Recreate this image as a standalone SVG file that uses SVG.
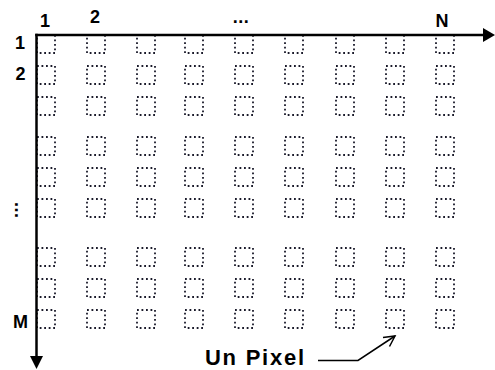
<svg xmlns="http://www.w3.org/2000/svg" xmlns:xlink="http://www.w3.org/1999/xlink" width="495" height="370" viewBox="0 0 495 370">
<style>
.px{fill:none;stroke:#1a1a2a;stroke-width:1.8;stroke-dasharray:1.8 2.7}
.ax{fill:none;stroke:#000;stroke-width:2.5}
.lead{fill:none;stroke:#000;stroke-width:1.5}
.lbl{font-family:"Liberation Sans",Arial,sans-serif;font-weight:bold;font-size:18px;fill:#000;text-anchor:middle}
</style>
<defs>
<rect id="px" class="px" width="18" height="18"/>
</defs>
<rect width="495" height="370" fill="#fff"/>
<g id="pixels">
<g id="row1"><use id="p1-1" href="#px" x="37" y="35"/><use id="p1-2" href="#px" x="87" y="35"/><use id="p1-3" href="#px" x="137" y="35"/><use id="p1-4" href="#px" x="185" y="35"/><use id="p1-5" href="#px" x="235" y="35"/><use id="p1-6" href="#px" x="285" y="35"/><use id="p1-7" href="#px" x="336" y="35"/><use id="p1-8" href="#px" x="386" y="35"/><use id="p1-9" href="#px" x="436" y="35"/></g>
<g id="row2"><use id="p2-1" href="#px" x="37" y="66"/><use id="p2-2" href="#px" x="87" y="66"/><use id="p2-3" href="#px" x="137" y="66"/><use id="p2-4" href="#px" x="185" y="66"/><use id="p2-5" href="#px" x="235" y="66"/><use id="p2-6" href="#px" x="285" y="66"/><use id="p2-7" href="#px" x="336" y="66"/><use id="p2-8" href="#px" x="386" y="66"/><use id="p2-9" href="#px" x="436" y="66"/></g>
<g id="row3"><use id="p3-1" href="#px" x="37" y="97"/><use id="p3-2" href="#px" x="87" y="97"/><use id="p3-3" href="#px" x="137" y="97"/><use id="p3-4" href="#px" x="185" y="97"/><use id="p3-5" href="#px" x="235" y="97"/><use id="p3-6" href="#px" x="285" y="97"/><use id="p3-7" href="#px" x="336" y="97"/><use id="p3-8" href="#px" x="386" y="97"/><use id="p3-9" href="#px" x="436" y="97"/></g>
<g id="row4"><use id="p4-1" href="#px" x="37" y="137"/><use id="p4-2" href="#px" x="87" y="137"/><use id="p4-3" href="#px" x="137" y="137"/><use id="p4-4" href="#px" x="185" y="137"/><use id="p4-5" href="#px" x="235" y="137"/><use id="p4-6" href="#px" x="285" y="137"/><use id="p4-7" href="#px" x="336" y="137"/><use id="p4-8" href="#px" x="386" y="137"/><use id="p4-9" href="#px" x="436" y="137"/></g>
<g id="row5"><use id="p5-1" href="#px" x="37" y="168"/><use id="p5-2" href="#px" x="87" y="168"/><use id="p5-3" href="#px" x="137" y="168"/><use id="p5-4" href="#px" x="185" y="168"/><use id="p5-5" href="#px" x="235" y="168"/><use id="p5-6" href="#px" x="285" y="168"/><use id="p5-7" href="#px" x="336" y="168"/><use id="p5-8" href="#px" x="386" y="168"/><use id="p5-9" href="#px" x="436" y="168"/></g>
<g id="row6"><use id="p6-1" href="#px" x="37" y="199"/><use id="p6-2" href="#px" x="87" y="199"/><use id="p6-3" href="#px" x="137" y="199"/><use id="p6-4" href="#px" x="185" y="199"/><use id="p6-5" href="#px" x="235" y="199"/><use id="p6-6" href="#px" x="285" y="199"/><use id="p6-7" href="#px" x="336" y="199"/><use id="p6-8" href="#px" x="386" y="199"/><use id="p6-9" href="#px" x="436" y="199"/></g>
<g id="row7"><use id="p7-1" href="#px" x="37" y="248"/><use id="p7-2" href="#px" x="87" y="248"/><use id="p7-3" href="#px" x="137" y="248"/><use id="p7-4" href="#px" x="185" y="248"/><use id="p7-5" href="#px" x="235" y="248"/><use id="p7-6" href="#px" x="285" y="248"/><use id="p7-7" href="#px" x="336" y="248"/><use id="p7-8" href="#px" x="386" y="248"/><use id="p7-9" href="#px" x="436" y="248"/></g>
<g id="row8"><use id="p8-1" href="#px" x="37" y="279"/><use id="p8-2" href="#px" x="87" y="279"/><use id="p8-3" href="#px" x="137" y="279"/><use id="p8-4" href="#px" x="185" y="279"/><use id="p8-5" href="#px" x="235" y="279"/><use id="p8-6" href="#px" x="285" y="279"/><use id="p8-7" href="#px" x="336" y="279"/><use id="p8-8" href="#px" x="386" y="279"/><use id="p8-9" href="#px" x="436" y="279"/></g>
<g id="row9"><use id="p9-1" href="#px" x="37" y="310"/><use id="p9-2" href="#px" x="87" y="310"/><use id="p9-3" href="#px" x="137" y="310"/><use id="p9-4" href="#px" x="185" y="310"/><use id="p9-5" href="#px" x="235" y="310"/><use id="p9-6" href="#px" x="285" y="310"/><use id="p9-7" href="#px" x="336" y="310"/><use id="p9-8" href="#px" x="386" y="310"/><use id="p9-9" href="#px" x="436" y="310"/></g>
</g>
<g id="connectors">
<line class="ax" x1="35.25" y1="35" x2="485" y2="35"/>
<polygon points="483,28 495,35 483,42" fill="#000"/>
<line class="ax" x1="36.5" y1="33.75" x2="36.5" y2="358"/>
<polygon points="30,356 43,356 36.5,369" fill="#000"/>
<polyline class="lead" points="318,360.5 358,360.5 395,336"/>
<polyline class="lead" points="383,337.5 395,336 389.5,346.5"/>
</g>
<g id="labels">
<text class="lbl" x="45" y="27">1</text>
<text class="lbl" x="95" y="23">2</text>
<text class="lbl" x="241" y="23" letter-spacing="0.5">...</text>
<text class="lbl" x="442" y="27">N</text>
<text class="lbl" x="20" y="49">1</text>
<text class="lbl" x="20.5" y="80">2</text>
<text class="lbl" transform="translate(15,202) rotate(90)" x="0" y="0" style="text-anchor:start" letter-spacing="0.5">...</text>
<text class="lbl" x="20.5" y="328">M</text>
<text class="lbl" x="205" y="364.5" style="text-anchor:start;font-size:22px" textLength="99" lengthAdjust="spacing">Un Pixel</text>
</g>
</svg>
